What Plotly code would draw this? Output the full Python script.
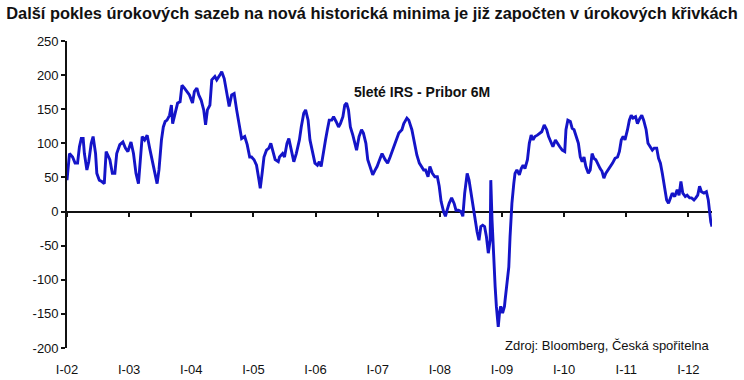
import plotly.graph_objects as go

# Decimal-year time stamps and spread values (bp)
years = [
    2002.00, 2002.04, 2002.09, 2002.13, 2002.17, 2002.20, 2002.23, 2002.26, 2002.28, 2002.32,
    2002.35, 2002.39, 2002.42, 2002.46, 2002.48, 2002.52, 2002.56, 2002.60, 2002.63, 2002.66,
    2002.69, 2002.73, 2002.77, 2002.80, 2002.85, 2002.90, 2002.94, 2002.98, 2003.03, 2003.07,
    2003.11, 2003.15, 2003.18, 2003.21, 2003.25, 2003.29, 2003.33, 2003.37, 2003.41, 2003.45,
    2003.48, 2003.52, 2003.55, 2003.58, 2003.61, 2003.65, 2003.68, 2003.70, 2003.74, 2003.78,
    2003.82, 2003.85, 2003.89, 2003.93, 2003.97, 2004.02, 2004.05, 2004.09, 2004.12, 2004.16,
    2004.20, 2004.23, 2004.26, 2004.30, 2004.33, 2004.38, 2004.41, 2004.46, 2004.49, 2004.53,
    2004.56, 2004.61, 2004.65, 2004.69, 2004.73, 2004.77, 2004.81, 2004.86, 2004.90, 2004.94,
    2004.97, 2005.01, 2005.05, 2005.09, 2005.11, 2005.14, 2005.17, 2005.21, 2005.25, 2005.28,
    2005.32, 2005.35, 2005.40, 2005.42, 2005.47, 2005.50, 2005.54, 2005.57, 2005.61, 2005.65,
    2005.69, 2005.74, 2005.77, 2005.81, 2005.84, 2005.88, 2005.91, 2005.95, 2005.99, 2006.03,
    2006.06, 2006.09, 2006.12, 2006.16, 2006.19, 2006.22, 2006.26, 2006.29, 2006.33, 2006.37,
    2006.40, 2006.44, 2006.47, 2006.50, 2006.53, 2006.56, 2006.60, 2006.63, 2006.66, 2006.70,
    2006.74, 2006.77, 2006.81, 2006.84, 2006.88, 2006.92, 2006.96, 2006.99, 2007.04, 2007.07,
    2007.12, 2007.16, 2007.20, 2007.24, 2007.27, 2007.31, 2007.34, 2007.39, 2007.42, 2007.47,
    2007.50, 2007.55, 2007.59, 2007.63, 2007.67, 2007.70, 2007.74, 2007.77, 2007.81, 2007.84,
    2007.88, 2007.92, 2007.96, 2007.99, 2008.02, 2008.06, 2008.09, 2008.11, 2008.15, 2008.19,
    2008.23, 2008.26, 2008.30, 2008.34, 2008.37, 2008.40, 2008.44, 2008.47, 2008.50, 2008.53,
    2008.56, 2008.60, 2008.63, 2008.66, 2008.69, 2008.72, 2008.75, 2008.78, 2008.81, 2008.82,
    2008.84, 2008.86, 2008.89, 2008.91, 2008.94, 2008.96, 2008.98, 2009.01, 2009.04, 2009.05,
    2009.07, 2009.11, 2009.13, 2009.16, 2009.19, 2009.21, 2009.24, 2009.28, 2009.31, 2009.34,
    2009.37, 2009.41, 2009.44, 2009.47, 2009.50, 2009.53, 2009.57, 2009.61, 2009.64, 2009.68,
    2009.72, 2009.75, 2009.79, 2009.82, 2009.86, 2009.89, 2009.93, 2009.97, 2010.01, 2010.03,
    2010.06, 2010.10, 2010.13, 2010.16, 2010.19, 2010.23, 2010.26, 2010.29, 2010.32, 2010.35,
    2010.39, 2010.42, 2010.45, 2010.48, 2010.51, 2010.55, 2010.58, 2010.61, 2010.64, 2010.67,
    2010.71, 2010.75, 2010.78, 2010.82, 2010.86, 2010.89, 2010.92, 2010.95, 2010.98, 2011.02,
    2011.05, 2011.08, 2011.11, 2011.15, 2011.18, 2011.22, 2011.25, 2011.28, 2011.32, 2011.35,
    2011.38, 2011.42, 2011.45, 2011.49, 2011.52, 2011.55, 2011.58, 2011.61, 2011.65, 2011.68,
    2011.71, 2011.74, 2011.78, 2011.82, 2011.85, 2011.88, 2011.91, 2011.95, 2011.98, 2012.02,
    2012.05, 2012.09, 2012.12, 2012.15, 2012.18, 2012.21, 2012.25, 2012.29, 2012.32, 2012.34,
    2012.36, 2012.38,
]

spread = [
    46, 85, 80, 71, 71, 95, 107, 107, 85, 61,
    73, 100, 110, 85, 56, 46, 44, 41, 88, 83,
    76, 56, 56, 85, 98, 102, 93, 88, 102, 85,
    56, 41, 76, 110, 105, 112, 93, 76, 59, 41,
    61, 105, 124, 132, 134, 141, 156, 129, 144, 159,
    161, 185, 181, 176, 171, 159, 176, 181, 171, 163,
    149, 127, 149, 156, 193, 198, 193, 200, 205, 195,
    181, 154, 171, 173, 149, 129, 107, 110, 98, 80,
    80, 76, 68, 46, 34, 56, 80, 90, 93, 100,
    85, 76, 73, 80, 85, 80, 100, 107, 90, 73,
    85, 105, 124, 144, 149, 134, 105, 85, 71, 68,
    73, 66, 85, 105, 120, 134, 134, 139, 132, 124,
    129, 139, 156, 159, 149, 124, 112, 102, 90, 110,
    120, 115, 100, 76, 66, 54, 61, 66, 78, 85,
    76, 71, 80, 90, 100, 110, 115, 120, 129, 137,
    134, 120, 100, 83, 71, 66, 61, 61, 51, 66,
    56, 51, 51, 37, 15, 0, -7, 0, 12, 20,
    12, 2, 2, 0, -7, 27, 56, 46, 27, 7,
    -12, -30, -42, -22, -20, -22, -37, -61, -42, 46,
    -12, -61, -110, -139, -169, -149, -139, -149, -139, -130,
    -110, -81, -37, 12, 41, 56, 61, 54, 63, 68,
    63, 76, 100, 112, 105, 110, 112, 115, 117, 127,
    120, 110, 100, 95, 105, 100, 95, 90, 88, 120,
    134, 132, 122, 120, 112, 100, 80, 73, 80, 66,
    56, 61, 85, 78, 76, 68, 63, 59, 49, 56,
    61, 66, 71, 78, 80, 88, 105, 110, 105, 120,
    134, 141, 137, 139, 129, 137, 141, 134, 120, 100,
    95, 90, 93, 93, 78, 71, 56, 37, 17, 12,
    20, 27, 22, 32, 24, 44, 27, 22, 24, 20,
    20, 17, 20, 24, 37, 29, 27, 29, 17, 0,
    -15, -22,
]

year_ticks = [2002, 2003, 2004, 2005, 2006, 2007, 2008, 2009, 2010, 2011, 2012]
year_labels = ["I-02", "I-03", "I-04", "I-05", "I-06", "I-07", "I-08", "I-09", "I-10", "I-11", "I-12"]
y_ticks = [-200, -150, -100, -50, 0, 50, 100, 150, 200, 250]
y_labels = ["-200", "-150", "-100", "-50", "0", "50", "100", "150", "200", "250"]

title_text = "Další pokles úrokových sazeb na nová historická minima je již započten v úrokových křivkách"
series_name = "5leté IRS - Pribor 6M"
source_text = "Zdroj: Bloomberg, Česká spořitelna"

FONT = "Liberation Sans, Arial, sans-serif"
x_range = [2002.0, 2012.38]
y_range = [-200, 250]

W, H = 744, 380

fig = go.Figure()
fig.add_trace(go.Scatter(
    x=years, y=spread, mode="lines",
    line=dict(color="#1414C8", width=2.9),
    name=series_name, showlegend=False, hoverinfo="x+y",
))
# empty trace so the zero-crossing tick axis is drawn
fig.add_trace(go.Scatter(x=[], y=[], xaxis="x2", yaxis="y", showlegend=False, hoverinfo="skip"))

zero_pos = (0 - y_range[0]) / (y_range[1] - y_range[0])

fig.update_layout(
    width=W, height=H,
    margin=dict(l=67, r=32, t=41, b=32, autoexpand=False),
    paper_bgcolor="white", plot_bgcolor="white",
    font=dict(family=FONT, size=13, color="#111"),
    title=dict(
        text="<b>" + title_text + "</b>",
        x=372 / W, xanchor="center", xref="container",
        y=1 - 13 / H, yanchor="middle", yref="container",
        font=dict(family=FONT, size=16.4, color="#111"),
    ),
    xaxis=dict(
        range=x_range, tickmode="array", tickvals=year_ticks, ticktext=year_labels,
        showgrid=False, zeroline=False, showline=False, ticks="",
        tickfont=dict(family=FONT, size=13, color="#111"),
        ticklabelstandoff=12, automargin=False,
    ),
    xaxis2=dict(
        overlaying="x", matches="x", range=x_range, anchor="free", position=zero_pos,
        side="bottom", tickmode="array", tickvals=year_ticks, showticklabels=False,
        ticks="outside", ticklen=4, tickwidth=1.5, tickcolor="#111",
        showgrid=False, zeroline=False, showline=False, automargin=False,
    ),
    yaxis=dict(
        range=y_range, tickmode="array", tickvals=y_ticks, ticktext=y_labels,
        showgrid=False, zeroline=True, zerolinecolor="#111", zerolinewidth=1.8,
        showline=True, linecolor="#111", linewidth=1.6, mirror=False,
        ticks="outside", ticklen=4, tickwidth=1.5, tickcolor="#111",
        tickfont=dict(family=FONT, size=13, color="#111"),
        automargin=False,
    ),
    annotations=[
        dict(text="<b>" + series_name + "</b>", xref="paper", yref="paper",
             x=(422 - 67) / (712 - 67), y=(348 - 92) / (348 - 41),
             xanchor="center", yanchor="middle", showarrow=False,
             font=dict(family=FONT, size=14, color="#111")),
        dict(text=source_text, xref="paper", yref="paper",
             x=1.0, y=(348 - 345) / (348 - 41),
             xanchor="right", yanchor="middle", showarrow=False,
             font=dict(family=FONT, size=13, color="#111")),
    ],
)

# remove the browser's default page margin so the figure sits at the window origin
fig.write_html("out.html", config={"displayModeBar": False},
               post_script="document.body.style.margin='0';")
